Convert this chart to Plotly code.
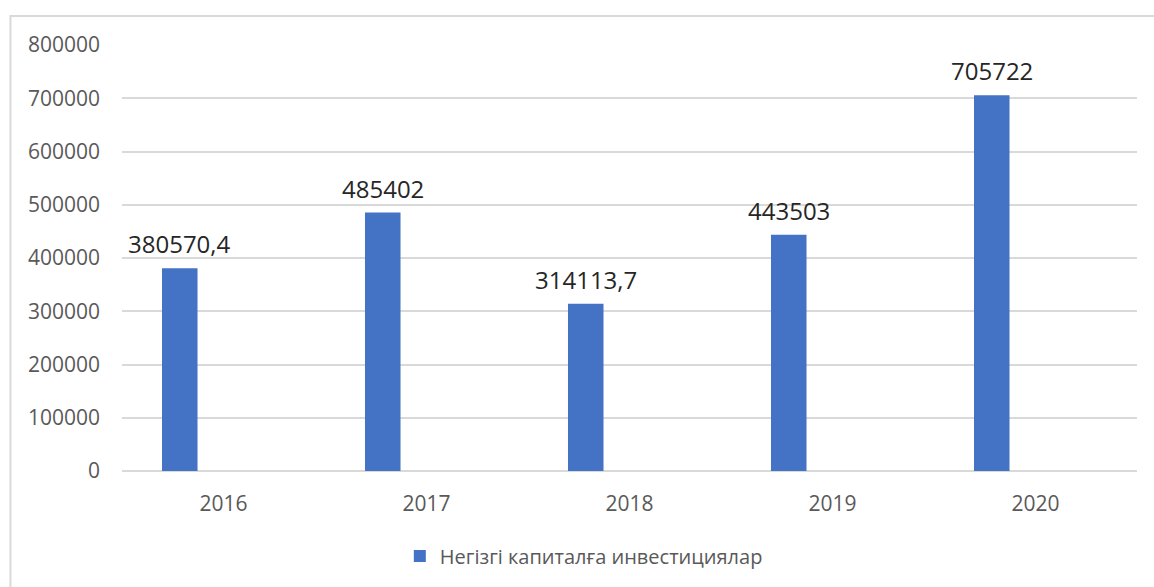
import plotly.graph_objects as go

years = ["2016", "2017", "2018", "2019", "2020"]
values = [380570.4, 485402, 314113.7, 443503, 705722]
labels = ["380570,4", "485402", "314113,7", "443503", "705722"]
series_name = "Негізгі капиталға инвестициялар"
y_ticks = [0, 100000, 200000, 300000, 400000, 500000, 600000, 700000, 800000]

FONT = "Open Sans"
pos = list(range(len(years)))

fig = go.Figure()
fig.add_trace(go.Bar(
    x=pos, y=values, name=series_name,
    marker=dict(color="#4472C4", line=dict(width=0)),
    width=0.175, offset=-0.303,
    hovertext=years, hoverinfo="text+y",
))

for p, v, t in zip(pos, values, labels):
    fig.add_annotation(
        x=p, y=v, text=t, showarrow=False,
        xref="x", yref="y", xanchor="center", yanchor="bottom",
        xshift=-44, yshift=6,
        font=dict(family=FONT, size=24, color="#262626"),
    )

fig.add_shape(
    type="rect", xref="paper", yref="paper",
    x0=-0.1099, x1=1.2, y0=-0.6, y1=1.068,
    line=dict(color="#d9d9d9", width=2), fillcolor="rgba(0,0,0,0)",
    layer="below",
)

fig.update_layout(
    width=1154, height=587,
    margin=dict(l=122, r=17, t=45, b=116, autoexpand=False),
    paper_bgcolor="white", plot_bgcolor="white",
    font=dict(family=FONT, size=21, color="#595959"),
    showlegend=True,
    legend=dict(
        orientation="h", x=0.455, xanchor="center", y=-0.1995, yanchor="middle",
        font=dict(family=FONT, size=20, color="#595959"),
    ),
    xaxis=dict(
        range=[-0.5, len(years) - 0.5], tickvals=pos, ticktext=years,
        showgrid=False, zeroline=False, showline=False,
        ticks="", ticklabelstandoff=18, fixedrange=True,
        tickfont=dict(family=FONT, size=21, color="#595959"),
    ),
    yaxis=dict(
        range=[0, 800000], tickvals=y_ticks, ticktext=[str(v) for v in y_ticks],
        showgrid=True, gridcolor="#d9d9d9", gridwidth=1.5,
        zeroline=True, zerolinecolor="#d9d9d9", zerolinewidth=1.5,
        showline=False, ticks="", ticklabelstandoff=21,
        tickfont=dict(family=FONT, size=21, color="#595959"),
    ),
)

fig.write_html("out.html", config={"displayModeBar": False},
               post_script="document.body.style.margin='0';")
